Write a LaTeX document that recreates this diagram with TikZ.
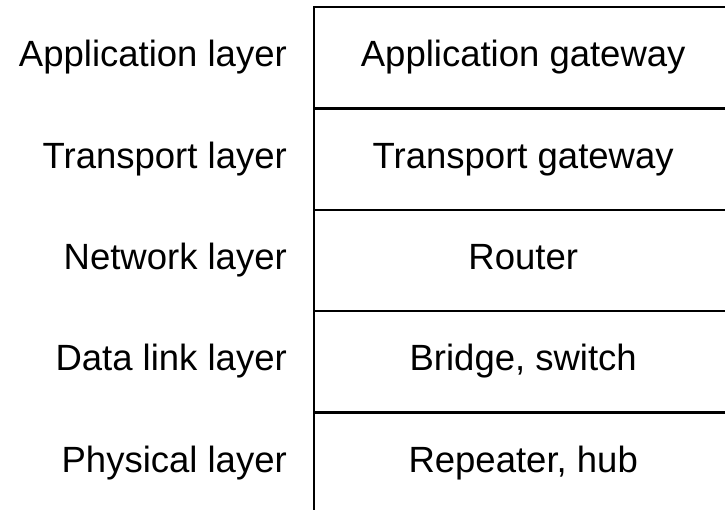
\documentclass[tikz,border=0pt]{standalone}
\usepackage{fontspec}
\setsansfont{Liberation Sans}
\usetikzlibrary{positioning}

\begin{document}
\begin{tikzpicture}[
  x=1pt, y=1pt,
  font=\sffamily\fontsize{36.5}{42}\selectfont,
  device/.style={minimum width=418pt, minimum height=101pt, inner sep=0pt,
    text height=26pt, text depth=8pt},
  layer/.style={anchor=east, inner sep=0pt, text height=26pt, text depth=8pt},
]
\useasboundingbox (0,0) rectangle (725,509);
% right column: devices
\node[device, anchor=north west] (app) at (314,502) {Application gateway};
\node[device, below=0pt of app] (trans) {Transport gateway};
\node[device, below=0pt of trans] (net) {Router};
\node[device, below=0pt of net] (link) {Bridge, switch};
\node[device, below=0pt of link] (phys) {Repeater, hub};
% left column: layers
\node[layer, left=27pt of app.west] (lapp) {Application layer};
\node[layer, left=27pt of trans.west] (ltrans) {Transport layer};
\node[layer, left=27pt of net.west] (lnet) {Network layer};
\node[layer, left=27pt of link.west] (llink) {Data link layer};
\node[layer, left=27pt of phys.west] (lphys) {Physical layer};
% frame
\draw[line width=2.5pt] (app.north east) -- (app.north west) -- (phys.south west);
\foreach \c in {app,trans,net,link}
  \draw[line width=2.5pt] (\c.south west) -- (\c.south east);
\end{tikzpicture}
\end{document}
